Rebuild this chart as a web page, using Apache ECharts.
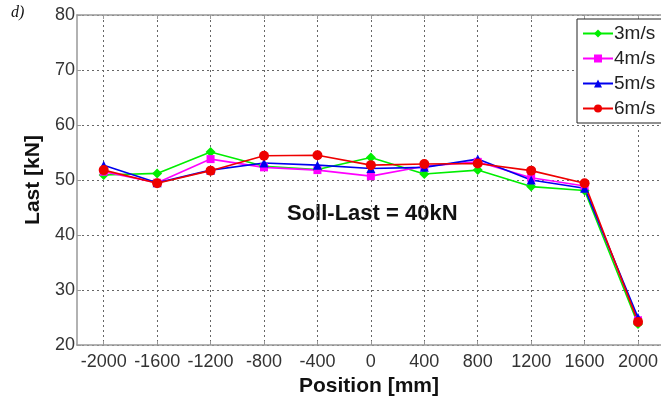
<!DOCTYPE html>
<html>
<head>
<meta charset="utf-8">
<script src="https://cdn.jsdelivr.net/npm/echarts@6/dist/echarts.min.js"></script>
<style>
html,body{margin:0;padding:0;background:#fff;}
#chart{width:661px;height:396px;}
</style>
</head>
<body>
<div id="chart"></div>
<script>
var positions = [-2000, -1600, -1200, -800, -400, 0, 400, 800, 1200, 1600, 2000];
var xTicks = [-2000, -1600, -1200, -800, -400, 0, 400, 800, 1200, 1600, 2000];
var v3 = [50.9, 51.2, 55.1, 52.5, 51.9, 54.1, 51.1, 51.8, 48.8, 48.1, 23.8];
var v4 = [51.5, 49.5, 53.8, 52.3, 51.8, 50.7, 52.5, 53.3, 50.4, 48.9, 24.5];
var v5 = [52.7, 49.5, 51.8, 53.1, 52.7, 52.1, 52.3, 53.8, 50.0, 48.5, 25.0];
var v6 = [51.8, 49.4, 51.7, 54.4, 54.5, 52.7, 52.9, 53.0, 51.7, 49.4, 24.2];
var seriesNames = ['3m/s', '4m/s', '5m/s', '6m/s'];
var seriesColors = ['#00ee00', '#ff00ff', '#0000ee', '#ee0000'];
var seriesSymbols = ['diamond', 'rect', 'triangle', 'circle'];
var seriesSizes = [10, 8, 9, 10];
var allValues = [v3, v4, v5, v6];

function pairs(vals) {
  return positions.map(function (p, i) { return [p, vals[i]]; });
}

var chart = echarts.init(document.getElementById('chart'), null, {renderer: 'canvas'});
var font = 'Liberation Sans, Arial, sans-serif';

var series = seriesNames.map(function (n, i) {
  return {
    name: n,
    type: 'line',
    data: pairs(allValues[i]),
    symbol: seriesSymbols[i],
    symbolSize: seriesSizes[i],
    lineStyle: {color: seriesColors[i], width: 1.6},
    itemStyle: {color: seriesColors[i]},
    emphasis: {disabled: true},
    animation: false
  };
});

var gridLine = {show: true, lineStyle: {color: '#666', type: [2, 3], width: 1}};

chart.setOption({
  animation: false,
  backgroundColor: '#ffffff',
  grid: {left: 77, top: 15, right: 0, bottom: 51, show: false, containLabel: false, outerBoundsMode: 'none'},
  legend: {
    orient: 'vertical',
    left: 577,
    top: 19,
    padding: [5, 8, 5, 5],
    itemGap: 6,
    itemWidth: 30,
    itemHeight: 10,
    backgroundColor: '#fff',
    borderColor: '#222',
    borderWidth: 1,
    textStyle: {fontFamily: font, fontSize: 19, color: '#222', padding: [0, 0, 0, -4]},
    data: seriesNames
  },
  xAxis: [{
    type: 'value',
    min: -2200,
    max: 2172,
    name: 'Position [mm]',
    nameLocation: 'middle',
    nameGap: 28,
    nameTextStyle: {fontFamily: font, fontSize: 21, fontWeight: 'bold', color: '#111'},
    axisLine: {show: true, onZero: false, lineStyle: {color: '#999', width: 1.5}},
    axisTick: {show: true, inside: true, length: 4, customValues: xTicks, lineStyle: {color: '#999'}},
    axisLabel: {customValues: xTicks, fontFamily: font, fontSize: 18, color: '#333', margin: 8,
      formatter: function (v) { return String(v); }},
    splitLine: gridLine
  }, {
    type: 'value',
    position: 'top',
    min: -2200,
    max: 2172,
    axisLine: {show: true, onZero: false, lineStyle: {color: '#999', width: 1.5}},
    axisTick: {show: true, inside: true, length: 4, customValues: xTicks, lineStyle: {color: '#999'}},
    axisLabel: {show: false},
    splitLine: {show: false}
  }],
  yAxis: {
    type: 'value',
    min: 20,
    max: 80,
    interval: 10,
    name: 'Last [kN]',
    nameLocation: 'middle',
    nameGap: 33,
    nameTextStyle: {fontFamily: font, fontSize: 21, fontWeight: 'bold', color: '#111'},
    axisLine: {show: true, onZero: false, lineStyle: {color: '#999', width: 1.5}},
    axisTick: {show: true, inside: true, length: 4, lineStyle: {color: '#999'}},
    axisLabel: {fontFamily: font, fontSize: 18, color: '#333', margin: 2},
    splitLine: gridLine
  },
  graphic: [
    {type: 'text', left: 287, top: 203, style: {text: 'Soll-Last = 40kN', font: 'bold 22px Liberation Sans, Arial, sans-serif', fill: '#111'}},
    {type: 'text', left: 11, top: 5, style: {text: 'd)', font: 'italic 16px Liberation Serif, Times New Roman, serif', fill: '#111'}}
  ],
  series: series
});
</script>
</body>
</html>
